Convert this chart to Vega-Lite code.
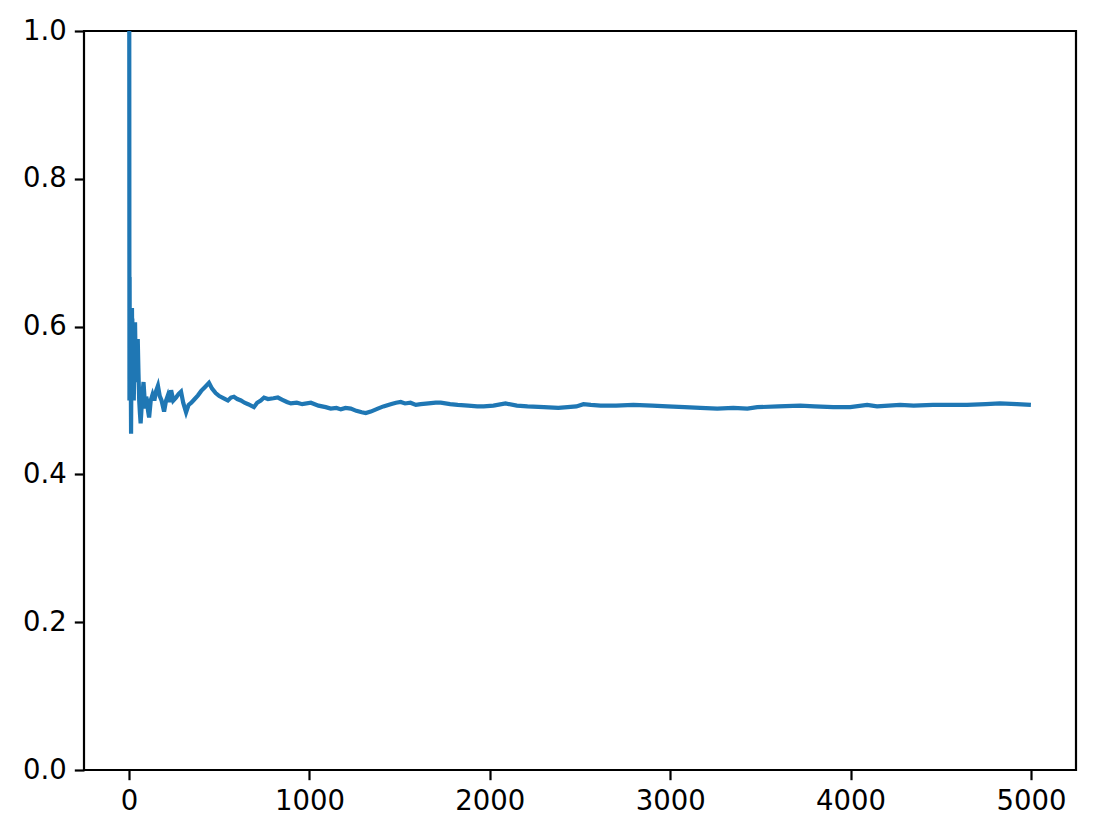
{
  "$schema": "https://vega.github.io/schema/vega-lite/v6.json",
  "width": 992,
  "height": 739,
  "autosize": {"type": "none"},
  "padding": {"left": 84, "top": 31, "right": 19, "bottom": 67},
  "background": "white",
  "config": {
    "view": {"stroke": "black", "strokeWidth": 2.2},
    "axis": {
      "domain": false,
      "grid": false,
      "ticks": true,
      "tickColor": "black",
      "tickWidth": 2.2,
      "tickSize": 9.7,
      "labelFont": "DejaVu Sans",
      "labelFontSize": 27.5,
      "labelColor": "black",
      "labelPadding": 8,
      "title": null
    }
  },
  "data": {
    "values": [
      {"n": 1, "mean": 1.0}, {"n": 2, "mean": 0.5}, {"n": 3, "mean": 0.667}, {"n": 4, "mean": 0.5},
      {"n": 5, "mean": 0.6}, {"n": 6, "mean": 0.5}, {"n": 7, "mean": 0.571}, {"n": 8, "mean": 0.5},
      {"n": 9, "mean": 0.556}, {"n": 10, "mean": 0.5}, {"n": 11, "mean": 0.455}, {"n": 12, "mean": 0.5},
      {"n": 13, "mean": 0.538}, {"n": 14, "mean": 0.571}, {"n": 15, "mean": 0.6}, {"n": 16, "mean": 0.625},
      {"n": 17, "mean": 0.588}, {"n": 18, "mean": 0.611}, {"n": 20, "mean": 0.55}, {"n": 22, "mean": 0.591},
      {"n": 24, "mean": 0.542}, {"n": 26, "mean": 0.5}, {"n": 28, "mean": 0.536}, {"n": 30, "mean": 0.567},
      {"n": 33, "mean": 0.606}, {"n": 36, "mean": 0.556}, {"n": 40, "mean": 0.525}, {"n": 44, "mean": 0.545},
      {"n": 48, "mean": 0.583}, {"n": 52, "mean": 0.538}, {"n": 56, "mean": 0.5}, {"n": 60, "mean": 0.483},
      {"n": 64, "mean": 0.469}, {"n": 68, "mean": 0.485}, {"n": 72, "mean": 0.5}, {"n": 76, "mean": 0.513},
      {"n": 80, "mean": 0.525}, {"n": 85, "mean": 0.506}, {"n": 90, "mean": 0.489}, {"n": 95, "mean": 0.505},
      {"n": 100, "mean": 0.5}, {"n": 105, "mean": 0.486}, {"n": 111, "mean": 0.477}, {"n": 120, "mean": 0.5},
      {"n": 130, "mean": 0.508}, {"n": 140, "mean": 0.5}, {"n": 150, "mean": 0.513}, {"n": 160, "mean": 0.52},
      {"n": 170, "mean": 0.506}, {"n": 180, "mean": 0.5}, {"n": 194, "mean": 0.485}, {"n": 205, "mean": 0.5},
      {"n": 215, "mean": 0.507}, {"n": 225, "mean": 0.498}, {"n": 233, "mean": 0.514}, {"n": 245, "mean": 0.5},
      {"n": 260, "mean": 0.504}, {"n": 275, "mean": 0.509}, {"n": 288, "mean": 0.512}, {"n": 300, "mean": 0.497},
      {"n": 316, "mean": 0.484}, {"n": 330, "mean": 0.494}, {"n": 345, "mean": 0.497}, {"n": 360, "mean": 0.501},
      {"n": 382, "mean": 0.507}, {"n": 400, "mean": 0.513}, {"n": 420, "mean": 0.518}, {"n": 443, "mean": 0.524},
      {"n": 460, "mean": 0.516}, {"n": 480, "mean": 0.51}, {"n": 500, "mean": 0.506}, {"n": 525, "mean": 0.503},
      {"n": 548, "mean": 0.5}, {"n": 565, "mean": 0.504}, {"n": 581, "mean": 0.505}, {"n": 600, "mean": 0.502},
      {"n": 620, "mean": 0.5}, {"n": 640, "mean": 0.497}, {"n": 660, "mean": 0.495}, {"n": 692, "mean": 0.491},
      {"n": 710, "mean": 0.497}, {"n": 730, "mean": 0.5}, {"n": 748, "mean": 0.504}, {"n": 770, "mean": 0.502},
      {"n": 800, "mean": 0.503}, {"n": 825, "mean": 0.504}, {"n": 850, "mean": 0.501}, {"n": 875, "mean": 0.498},
      {"n": 897, "mean": 0.496}, {"n": 930, "mean": 0.497}, {"n": 960, "mean": 0.495}, {"n": 1008, "mean": 0.497},
      {"n": 1050, "mean": 0.493}, {"n": 1090, "mean": 0.491}, {"n": 1118, "mean": 0.489}, {"n": 1150, "mean": 0.49},
      {"n": 1174, "mean": 0.488}, {"n": 1200, "mean": 0.49}, {"n": 1229, "mean": 0.489}, {"n": 1260, "mean": 0.486},
      {"n": 1290, "mean": 0.484}, {"n": 1312, "mean": 0.483}, {"n": 1340, "mean": 0.485}, {"n": 1379, "mean": 0.489},
      {"n": 1410, "mean": 0.492}, {"n": 1450, "mean": 0.495}, {"n": 1480, "mean": 0.497}, {"n": 1506, "mean": 0.498},
      {"n": 1530, "mean": 0.496}, {"n": 1560, "mean": 0.497}, {"n": 1590, "mean": 0.494}, {"n": 1617, "mean": 0.495},
      {"n": 1660, "mean": 0.496}, {"n": 1700, "mean": 0.497}, {"n": 1728, "mean": 0.497}, {"n": 1780, "mean": 0.495},
      {"n": 1822, "mean": 0.494}, {"n": 1880, "mean": 0.493}, {"n": 1930, "mean": 0.492}, {"n": 1966, "mean": 0.492},
      {"n": 2020, "mean": 0.493}, {"n": 2087, "mean": 0.496}, {"n": 2150, "mean": 0.493}, {"n": 2209, "mean": 0.492},
      {"n": 2300, "mean": 0.491}, {"n": 2380, "mean": 0.49}, {"n": 2431, "mean": 0.491}, {"n": 2480, "mean": 0.492},
      {"n": 2519, "mean": 0.495}, {"n": 2560, "mean": 0.494}, {"n": 2614, "mean": 0.493}, {"n": 2700, "mean": 0.493},
      {"n": 2796, "mean": 0.494}, {"n": 2900, "mean": 0.493}, {"n": 2985, "mean": 0.492}, {"n": 3080, "mean": 0.491},
      {"n": 3167, "mean": 0.49}, {"n": 3261, "mean": 0.489}, {"n": 3350, "mean": 0.49}, {"n": 3428, "mean": 0.489},
      {"n": 3483, "mean": 0.491}, {"n": 3600, "mean": 0.492}, {"n": 3721, "mean": 0.493}, {"n": 3800, "mean": 0.492},
      {"n": 3904, "mean": 0.491}, {"n": 3998, "mean": 0.491}, {"n": 4092, "mean": 0.494}, {"n": 4147, "mean": 0.492},
      {"n": 4275, "mean": 0.494}, {"n": 4350, "mean": 0.493}, {"n": 4457, "mean": 0.494}, {"n": 4550, "mean": 0.494},
      {"n": 4646, "mean": 0.494}, {"n": 4750, "mean": 0.495}, {"n": 4828, "mean": 0.496}, {"n": 4922, "mean": 0.495},
      {"n": 5000, "mean": 0.494}
    ]
  },
  "mark": {"type": "line", "color": "#1f77b4", "strokeWidth": 4.2, "clip": true},
  "encoding": {
    "x": {
      "field": "n",
      "type": "quantitative",
      "scale": {"domain": [-250, 5250], "nice": false, "zero": false},
      "axis": {"values": [0, 1000, 2000, 3000, 4000, 5000], "format": "d"}
    },
    "y": {
      "field": "mean",
      "type": "quantitative",
      "scale": {"domain": [0, 1], "nice": false},
      "axis": {"values": [0, 0.2, 0.4, 0.6, 0.8, 1.0], "format": ".1f"}
    }
  }
}
